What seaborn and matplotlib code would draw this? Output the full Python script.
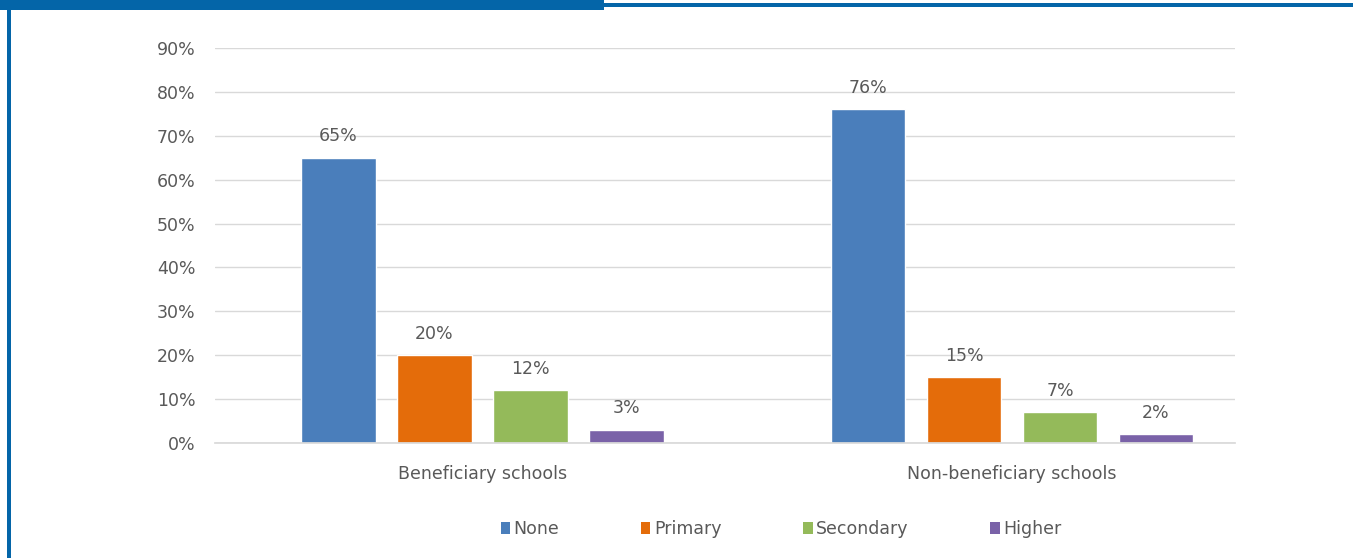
import matplotlib
matplotlib.use("Agg")
import matplotlib.pyplot as plt
import seaborn as sns
import pandas as pd
from matplotlib.patches import Rectangle, Patch

# Education level of parents, by school group
school_groups = ["Beneficiary schools", "Non-beneficiary schools"]
levels = ["None", "Primary", "Secondary", "Higher"]
beneficiary = [65, 20, 12, 3]
non_beneficiary = [76, 15, 7, 2]
y_ticks = [0, 10, 20, 30, 40, 50, 60, 70, 80, 90]

colors = ["#4A7EBB", "#E46C0A", "#94BA5A", "#7A62A8"]
text_color = "#595959"
frame_blue = "#0465A8"
fs = 12.5

rows = []
for group, vals in zip(school_groups, [beneficiary, non_beneficiary]):
    for lvl, v in zip(levels, vals):
        rows.append({"group": group, "level": lvl, "value": v})
df = pd.DataFrame(rows)

sns.set_theme(style="white")
plt.rcParams["font.family"] = ["DejaVu Sans"]

W, H = 1353, 558
fig = plt.figure(figsize=(W / 100, H / 100), dpi=100)
ax = fig.add_axes([215 / W, 1 - 443 / H, (1235 - 215) / W, (443 - 48) / H])

sns.barplot(data=df, x="group", y="value", hue="level", order=school_groups,
            hue_order=levels, palette=colors, width=0.725, gap=0.22,
            saturation=1, legend=False, ax=ax)

for cont in ax.containers:
    ax.bar_label(cont, labels=[f"{int(v)}%" for v in cont.datavalues],
                 padding=9, fontsize=fs, color=text_color)

ax.set_xlim(-0.505, 1.421)
ax.set_ylim(0, 90)
ax.set_yticks(y_ticks)
ax.set_yticklabels([f"{t}%" for t in y_ticks])
ax.yaxis.grid(True, color="#D9D9D9", linewidth=1)
ax.set_axisbelow(True)
for s in ["top", "right", "left"]:
    ax.spines[s].set_visible(False)
ax.spines["bottom"].set_color("#D9D9D9")
ax.tick_params(axis="both", length=0, labelsize=fs, labelcolor=text_color)
ax.tick_params(axis="y", pad=14)
ax.tick_params(axis="x", pad=16)
ax.set_xlabel("")
ax.set_ylabel("")

handles = [Patch(facecolor=c, edgecolor="none") for c in colors]
fig.legend(handles, levels, loc="center", bbox_to_anchor=(781 / W, 1 - 529 / H),
           ncol=4, frameon=False, fontsize=fs, handlelength=0.55,
           handleheight=0.7, handletextpad=0.2, columnspacing=4.7,
           labelcolor=text_color)

# Page frame: header tab, top rule and left rule
def frame_rect(x0, y0, x1, y1):
    fig.add_artist(Rectangle((x0 / W, 1 - y1 / H), (x1 - x0) / W, (y1 - y0) / H,
                             transform=fig.transFigure, facecolor=frame_blue,
                             edgecolor="none"))

frame_rect(0, 0, 604, 10)
frame_rect(604, 3, W, 7)
frame_rect(7, 0, 11, H)

fig.savefig("out.png", dpi=100)
